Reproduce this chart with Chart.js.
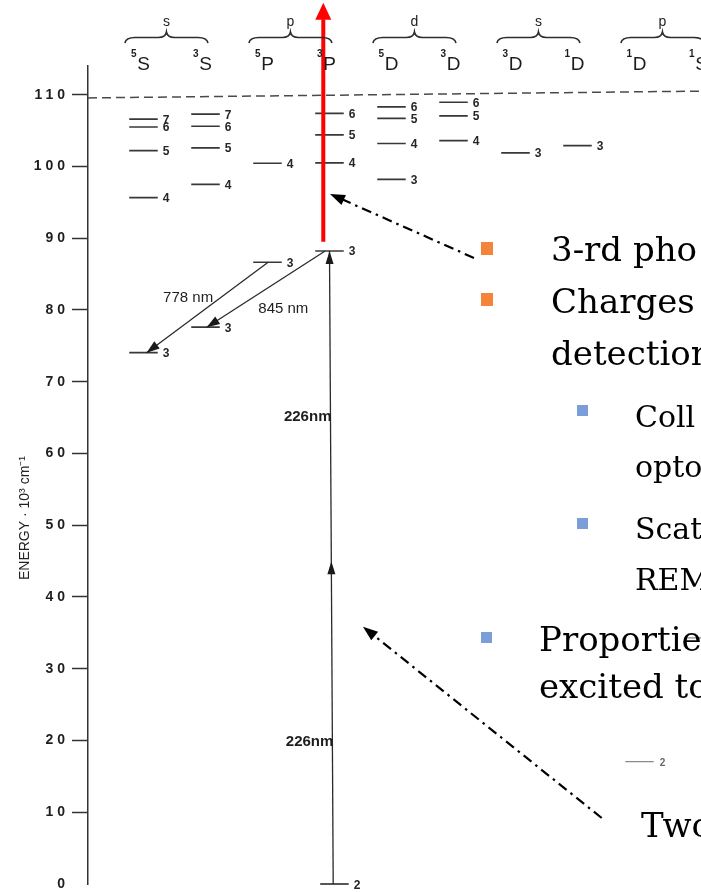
<!DOCTYPE html>
<html>
<head>
<meta charset="utf-8">
<title>Oxygen energy levels</title>
<script src="https://cdn.jsdelivr.net/npm/chart.js@4.4.1/dist/chart.umd.min.js"></script>
<style>
  html, body { margin: 0; padding: 0; background: #ffffff; overflow: hidden; }
  canvas { display: block; }
</style>
</head>
<body>
<canvas id="scheme" width="701" height="892"></canvas>
<script>
// ---------- Term columns, left to right ----------
const termMultiplicity = ['5', '3', '5', '3', '5', '3', '3', '1', '1', '1'];
const termLetter       = ['S', 'S', 'P', 'P', 'D', 'D', 'D', 'D', 'D', 'S'];
const configLabels     = ['s', 'p', 'd', 's', 'p'];
const configFirstTerm  = [0, 2, 4, 6, 8];

// ---------- Excited levels (energy in 10^3 cm^-1) ----------
const levelTerm   = [0, 0, 0, 0, 0,   1, 1, 1, 1, 1,   2, 2,   3, 3, 3, 3,   4, 4, 4, 4,   5, 5, 5,   6,   7];
const levelN      = [7, 6, 5, 4, 3,   7, 6, 5, 4, 3,   4, 3,   6, 5, 4, 3,   6, 5, 4, 3,   6, 5, 4,   3,   3];
const levelEnergy = [106.6, 105.5, 102.2, 95.65, 74.05,
                     107.3, 105.6, 102.6, 97.5, 77.6,
                     100.45, 86.65,
                     107.4, 104.4, 100.5, 88.22,
                     108.3, 106.7, 103.2, 98.2,
                     108.95, 107.05, 103.6,
                     101.9,
                     102.9];

// ground level and the low-lying singlet levels (n = 2)
const groundTerm = 3, groundN = 2, groundEnergy = 0;
const singletTerm   = [8, 9];
const singletN      = [2, 2];
const singletEnergy = [17.05, 34.3];

// ionisation limit, left and right ends of the dashed line
const ionLimit = [109.55, 110.5];

// two-photon excitation, fluorescence lines, ionising third photon
const excitationLabel  = '226nm';
const excitationEnergy = [0, 88.22];
const fluorLabels = ['778 nm', '845 nm'];
const fluorUpper  = [86.65, 88.22];
const fluorLower  = [74.05, 77.59];
const ionisingPhoton = [89.5, 122.8];

// axis
const yTicks = [0, 10, 20, 30, 40, 50, 60, 70, 80, 90, 100, 110];
const yTitle = 'ENERGY · 10³ cm⁻¹';

// slide text lines
const slideLines = ['3-rd pho', 'Charges', 'detection', 'Coll', 'opto', 'Scat', 'REM', 'Proportie', 'excited to', 'Two'];

// ---------- Layout ----------
const X_MIN = -0.895, X_MAX = 8.992;   // x axis in term-column units
const Y_MIN = 0, Y_MAX = 114;
const LAYOUT = {
  levelHalf: 0.23,
  groundShift: 0.08,
  excitationX: [3.06, 3.0],
  fluorX: [[2.01, 0.05], [2.93, 1.02]],
  ionisingX: 2.90,
  redHeadUnits: 2.3,
  excitationLabelAt: [65.2, 19.97],
  fluorLabelAt: [[0.72, 81.63], [2.255, 80.1]],
  titleAt: 51,
  pointers: [
    [[5.33, 87.25], [3.008, 96.17]],
    [[7.39, 9.2], [3.54, 35.86]]
  ],
  slide: [
    { x: 551, y: 261, size: 34, bullet: [481, 242, 12, 13, '#F4843A'] },
    { x: 551, y: 313, size: 34, bullet: [481, 293, 12, 13, '#F4843A'] },
    { x: 551, y: 365, size: 34 },
    { x: 635, y: 427, size: 30, bullet: [577, 405, 11, 11, '#7B9ED9'] },
    { x: 635, y: 477, size: 30 },
    { x: 635, y: 539, size: 30, bullet: [577, 518, 11, 11, '#7B9ED9'] },
    { x: 635, y: 590, size: 30 },
    { x: 539, y: 651, size: 34, bullet: [481, 632, 11, 11, '#7B9ED9'] },
    { x: 539, y: 698, size: 34 },
    { x: 641, y: 837, size: 34 }
  ]
};

const SANS = '"Liberation Sans", Arial, Helvetica, sans-serif';
const SERIF = '"DejaVu Serif", "Liberation Serif", serif';

// horizontal level bars, separated by gaps
function levelBars(terms, energies, shift) {
  const pts = [];
  terms.forEach((t, i) => {
    const c = t + (shift || 0);
    pts.push({ x: c - LAYOUT.levelHalf, y: energies[i] });
    pts.push({ x: c + LAYOUT.levelHalf, y: energies[i] });
    pts.push({ x: c, y: null });
  });
  return pts;
}

const line = (data, color, width, extra) => Object.assign({
  data, borderColor: color, borderWidth: width, pointRadius: 0, fill: false,
  tension: 0, spanGaps: false, borderCapStyle: 'butt'
}, extra || {});

const datasets = [
  line([{ x: LAYOUT.ionisingX, y: ionisingPhoton[0] },
        { x: LAYOUT.ionisingX, y: ionisingPhoton[1] - LAYOUT.redHeadUnits }], '#ff0000', 4, { clip: false, label: 'ionising photon' }),
  line([{ x: LAYOUT.excitationX[0], y: excitationEnergy[0] },
        { x: LAYOUT.excitationX[1], y: excitationEnergy[1] }], '#2a2a2a', 1.3, { label: excitationLabel }),
  line([{ x: LAYOUT.fluorX[0][0], y: fluorUpper[0] },
        { x: LAYOUT.fluorX[0][1], y: fluorLower[0] }], '#2a2a2a', 1.3, { label: fluorLabels[0] }),
  line([{ x: LAYOUT.fluorX[1][0], y: fluorUpper[1] },
        { x: LAYOUT.fluorX[1][1], y: fluorLower[1] }], '#2a2a2a', 1.3, { label: fluorLabels[1] }),
  line(levelBars(levelTerm, levelEnergy), '#383838', 1.7, { label: 'levels' }),
  line(levelBars([groundTerm], [groundEnergy], LAYOUT.groundShift), '#383838', 1.7, { label: 'ground', clip: false }),
  line(levelBars(singletTerm, singletEnergy), '#8a8a8a', 1.4, { label: 'singlets' }),
  line([{ x: X_MIN, y: ionLimit[0] }, { x: X_MAX, y: ionLimit[1] }], '#4a4a4a', 1.5, { borderDash: [9, 5], label: 'limit' })
];

function arrowHead(ctx, fx, fy, tx, ty, len, half, color) {
  const a = Math.atan2(ty - fy, tx - fx), c = Math.cos(a), s = Math.sin(a);
  ctx.beginPath();
  ctx.moveTo(tx, ty);
  ctx.lineTo(tx - len * c - half * s, ty - len * s + half * c);
  ctx.lineTo(tx - len * c + half * s, ty - len * s - half * c);
  ctx.closePath();
  ctx.fillStyle = color;
  ctx.fill();
}

const schemePlugin = {
  id: 'scheme',
  beforeDraw(chart) { chart.ctx.letterSpacing = '4px'; },          // spaced tick numerals
  beforeDatasetsDraw(chart) { chart.ctx.letterSpacing = '0px'; },
  afterDatasetsDraw(chart) {
    const { ctx, chartArea } = chart;
    const xs = chart.scales.x, ys = chart.scales.y;
    const px = v => xs.getPixelForValue(v), py = v => ys.getPixelForValue(v);
    const top = chartArea.top;
    ctx.save();

    // red arrow head
    const rx = px(LAYOUT.ionisingX);
    arrowHead(ctx, rx, py(ionisingPhoton[0]), rx, py(ionisingPhoton[1]), 17, 8, '#ff0000');

    // two-photon excitation heads (middle and top)
    const ex0 = px(LAYOUT.excitationX[0]), ey0 = py(excitationEnergy[0]);
    const ex1 = px(LAYOUT.excitationX[1]), ey1 = py(excitationEnergy[1]);
    arrowHead(ctx, ex0, ey0, ex1, ey1, 13, 4, '#1a1a1a');
    const mx = ex0 + (ex1 - ex0) * 0.51, my = ey0 + (ey1 - ey0) * 0.51;
    arrowHead(ctx, ex0, ey0, mx, my, 13, 4, '#1a1a1a');

    // fluorescence heads
    fluorUpper.forEach((e, i) => {
      arrowHead(ctx, px(LAYOUT.fluorX[i][0]), py(e), px(LAYOUT.fluorX[i][1]), py(fluorLower[i]), 13, 4.5, '#1a1a1a');
    });

    // level numbers
    ctx.textAlign = 'left';
    ctx.textBaseline = 'alphabetic';
    ctx.fillStyle = '#262626';
    ctx.font = 'bold 12px ' + SANS;
    levelTerm.forEach((t, i) => {
      ctx.fillText(String(levelN[i]), px(t + LAYOUT.levelHalf) + 5, py(levelEnergy[i]) + 4.5);
    });
    ctx.fillText(String(groundN), px(groundTerm + LAYOUT.groundShift + LAYOUT.levelHalf) + 5, py(groundEnergy) + 5);
    ctx.fillStyle = '#666666';
    ctx.font = 'bold 10px ' + SANS;
    singletTerm.forEach((t, i) => {
      ctx.fillText(String(singletN[i]), px(t + LAYOUT.levelHalf) + 6, py(singletEnergy[i]) + 4);
    });

    // term symbols
    ctx.fillStyle = '#1c1c1c';
    termLetter.forEach((L, i) => {
      const cx = px(i);
      ctx.font = '19px ' + SANS;
      ctx.textAlign = 'center';
      ctx.fillText(L, cx, top + 4);
      const w = ctx.measureText(L).width;
      ctx.font = 'bold 10px ' + SANS;
      ctx.textAlign = 'right';
      ctx.fillText(termMultiplicity[i], cx - w / 2 - 0.5, top - 9);
    });

    // configuration braces
    ctx.strokeStyle = '#2e2e2e';
    ctx.lineWidth = 1.6;
    configLabels.forEach((lab, g) => {
      const f = configFirstTerm[g];
      const x0 = px(f - 0.3), x1 = px(f + 1.04), xm = (x0 + x1) / 2;
      const yEnd = top - 23, yMid = top - 28.5, yPeak = top - 34;
      ctx.beginPath();
      ctx.moveTo(x0, yEnd);
      ctx.quadraticCurveTo(x0 + 1, yMid, x0 + 10, yMid);
      ctx.lineTo(xm - 8, yMid);
      ctx.quadraticCurveTo(xm - 1, yMid, xm, yPeak);
      ctx.quadraticCurveTo(xm + 1, yMid, xm + 8, yMid);
      ctx.lineTo(x1 - 10, yMid);
      ctx.quadraticCurveTo(x1 - 1, yMid, x1, yEnd);
      ctx.stroke();
      ctx.font = '14px ' + SANS;
      ctx.textAlign = 'center';
      ctx.fillText(lab, xm, top - 40);
    });

    // transition labels
    ctx.fillStyle = '#1e1e1e';
    ctx.font = 'bold 15px ' + SANS;
    ctx.textAlign = 'right';
    LAYOUT.excitationLabelAt.forEach(e => {
      const t = (e - excitationEnergy[0]) / (excitationEnergy[1] - excitationEnergy[0]);
      const xx = ex0 + (ex1 - ex0) * t;
      ctx.fillText(excitationLabel, xx + 1, py(e) + 5);
    });
    ctx.font = '15px ' + SANS;
    ctx.textAlign = 'center';
    ctx.textBaseline = 'middle';
    fluorLabels.forEach((lab, i) => {
      ctx.fillText(lab, px(LAYOUT.fluorLabelAt[i][0]), py(LAYOUT.fluorLabelAt[i][1]));
    });

    // axis title
    ctx.save();
    ctx.translate(ys.left + 25, py(LAYOUT.titleAt));
    ctx.rotate(-Math.PI / 2);
    ctx.font = '14px ' + SANS;
    ctx.fillStyle = '#222';
    ctx.fillText(yTitle, 0, 0);
    ctx.restore();

    ctx.restore();
  },
  afterDraw(chart) {
    const { ctx } = chart;
    const xs = chart.scales.x, ys = chart.scales.y;
    const px = v => xs.getPixelForValue(v), py = v => ys.getPixelForValue(v);
    ctx.save();

    // slide text with square bullets
    ctx.textAlign = 'left';
    ctx.textBaseline = 'alphabetic';
    slideLines.forEach((txt, i) => {
      const s = LAYOUT.slide[i];
      if (s.bullet) {
        ctx.fillStyle = s.bullet[4];
        ctx.fillRect(s.bullet[0], s.bullet[1], s.bullet[2], s.bullet[3]);
      }
      ctx.fillStyle = '#000000';
      ctx.font = s.size + 'px ' + SERIF;
      ctx.fillText(txt, s.x, s.y);
    });

    // dash-dot pointers
    LAYOUT.pointers.forEach(([from, to]) => {
      const fx = px(from[0]), fy = py(from[1]), tx = px(to[0]), ty = py(to[1]);
      const a = Math.atan2(ty - fy, tx - fx);
      ctx.beginPath();
      ctx.setLineDash([10, 5, 2.5, 5]);
      ctx.strokeStyle = '#000';
      ctx.lineWidth = 2.2;
      ctx.moveTo(fx, fy);
      ctx.lineTo(tx - 12 * Math.cos(a), ty - 12 * Math.sin(a));
      ctx.stroke();
      ctx.setLineDash([]);
      arrowHead(ctx, fx, fy, tx, ty, 15, 5.5, '#000');
    });
    ctx.restore();
  }
};

new Chart(document.getElementById('scheme'), {
  type: 'line',
  data: { datasets },
  plugins: [schemePlugin],
  options: {
    responsive: false,
    animation: false,
    devicePixelRatio: 1,
    events: [],
    layout: { padding: { top: 66, bottom: 8, left: 0, right: 0 } },
    plugins: { legend: { display: false }, tooltip: { enabled: false } },
    scales: {
      x: { type: 'linear', min: X_MIN, max: X_MAX, display: false },
      y: {
        type: 'linear', min: Y_MIN, max: Y_MAX,
        afterBuildTicks: s => { s.ticks = yTicks.map(v => ({ value: v })); },
        afterFit: s => { s.width = 88; s.paddingTop = 0; s.paddingBottom = 0; },
        ticks: { font: { family: SANS, size: 14, weight: 'bold' }, color: '#1e1e1e', padding: 3 },
        grid: {
          drawOnChartArea: false, drawTicks: true, tickLength: 16, tickWidth: 1.5,
          tickColor: c => (c.tick && c.tick.value === 0) ? 'rgba(0,0,0,0)' : '#333333'
        },
        border: { display: true, color: '#333333', width: 1.5 }
      }
    }
  }
});
</script>
</body>
</html>
